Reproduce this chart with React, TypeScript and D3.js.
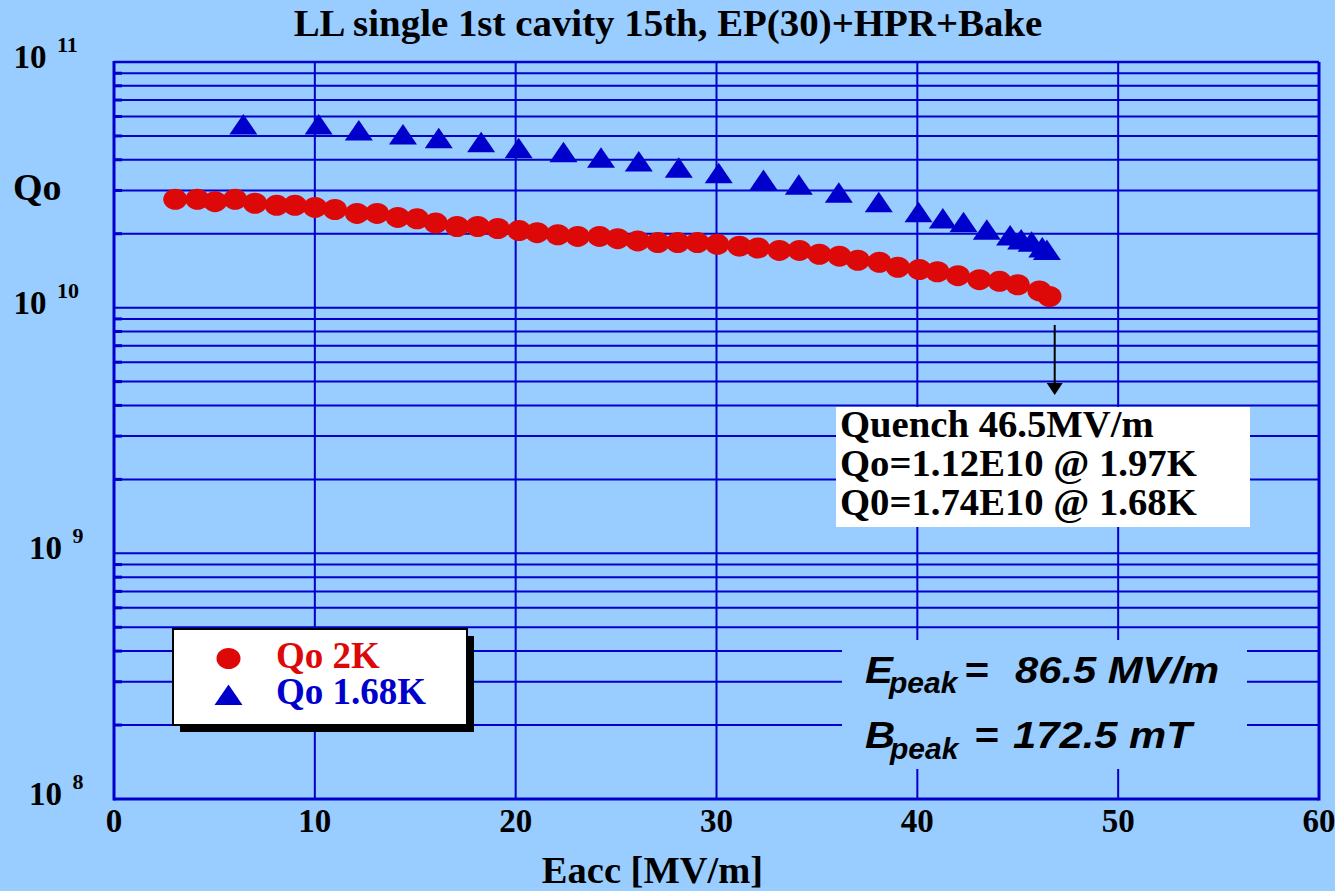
import React from "react";
import * as d3 from "d3";

const eacc2K = [3.05, 4.15, 5.03, 6.03, 7.02, 8.1, 9.01, 10.01, 11.0, 12.1, 13.1, 14.13, 15.09, 16.02, 17.08, 18.11, 19.11, 20.17, 21.07, 22.1, 23.09, 24.17, 25.08, 26.08, 27.08, 28.07, 29.05, 30.04, 31.14, 32.06, 33.13, 34.13, 35.12, 36.12, 37.04, 38.11, 39.03, 40.1, 41.0, 42.02, 43.09, 44.09, 45.0, 46.08, 46.58];
const q2K = [2.76e10, 2.76e10, 2.7e10, 2.76e10, 2.66e10, 2.61e10, 2.61e10, 2.56e10, 2.51e10, 2.42e10, 2.42e10, 2.33e10, 2.3e10, 2.21e10, 2.14e10, 2.14e10, 2.1e10, 2.06e10, 2.02e10, 1.98e10, 1.95e10, 1.95e10, 1.91e10, 1.87e10, 1.84e10, 1.84e10, 1.84e10, 1.81e10, 1.78e10, 1.75e10, 1.71e10, 1.71e10, 1.65e10, 1.62e10, 1.56e10, 1.53e10, 1.46e10, 1.43e10, 1.4e10, 1.35e10, 1.3e10, 1.28e10, 1.24e10, 1.17e10, 1.11e10];

const eacc168K = [6.44, 10.19, 12.19, 14.39, 16.17, 18.28, 20.15, 22.38, 24.25, 26.13, 28.12, 30.11, 32.34, 34.1, 36.09, 38.08, 40.06, 41.27, 42.3, 43.46, 44.62, 45.17, 45.69, 46.22, 46.45];
const q168K = [5.58e10, 5.58e10, 5.27e10, 5.08e10, 4.9e10, 4.72e10, 4.47e10, 4.3e10, 4.09e10, 3.94e10, 3.72e10, 3.53e10, 3.32e10, 3.17e10, 2.94e10, 2.69e10, 2.45e10, 2.31e10, 2.23e10, 2.08e10, 1.97e10, 1.9e10, 1.86e10, 1.76e10, 1.72e10];

const xTicks = [0, 10, 20, 30, 40, 50, 60];
const yDecades = [8, 9, 10, 11];
const legendLabels = ["Qo 2K", "Qo 1.68K"];
const quenchLines = ["Quench 46.5MV/m", "Qo=1.12E10 @ 1.97K", "Q0=1.74E10 @ 1.68K"];

const BG = "#99ccff";
const GRID = "#0000cc";
const RED = "#dd0808";
const BLUE = "#0000cc";
const SERIF = "'Liberation Serif', 'Times New Roman', serif";
const SANS = "'Liberation Sans', Arial, sans-serif";

export default function App() {
  const W = 1335, H = 891;
  const x = d3.scaleLinear().domain([0, 60]).range([114, 1319]);
  const y = d3.scaleLog().domain([1e8, 1e11]).range([799, 62]);

  const minor: number[] = [];
  for (let d = 8; d < 11; d++) for (let m = 2; m <= 9; m++) minor.push(m * Math.pow(10, d));

  const tri = (cx: number, cy: number) =>
    `M${cx},${cy - 10.25}L${cx + 14},${cy + 10.25}L${cx - 14},${cy + 10.25}Z`;

  const stretched = (tx: number, ty: number, s: string, fs = 36) => (
    <g transform={`translate(${tx},${ty}) scale(1.16,1)`}>
      <text x={0} y={0} fontSize={fs}>{s}</text>
    </g>
  );

  return (
    <svg width={W} height={H} style={{ position: "absolute", left: 0, top: 0 }} xmlns="http://www.w3.org/2000/svg">
      <rect x={0} y={0} width={W} height={H} fill={BG} />
      {minor.map((v, i) => (
        <line key={"m" + i} x1={x(0)} x2={x(60)} y1={y(v)} y2={y(v)} stroke={GRID} strokeWidth={2} />
      ))}
      {yDecades.map((d) => (
        <line key={"d" + d} x1={x(0)} x2={x(60)} y1={y(Math.pow(10, d))} y2={y(Math.pow(10, d))} stroke={GRID} strokeWidth={2} />
      ))}
      {xTicks.map((t) => (
        <line key={"v" + t} x1={x(t)} x2={x(t)} y1={y(1e11)} y2={y(1e8)} stroke={GRID} strokeWidth={2} />
      ))}
      {minor.map((v, i) => (
        <line key={"t" + i} x1={x(0)} x2={x(0) + 8} y1={y(v)} y2={y(v)} stroke={GRID} strokeWidth={3} />
      ))}
      <line x1={x(0)} x2={x(0)} y1={y(1e11) - 1} y2={y(1e8) + 1.5} stroke={GRID} strokeWidth={3} />
      <line x1={x(0)} x2={x(60)} y1={y(1e8)} y2={y(1e8)} stroke={GRID} strokeWidth={3} />
      <line x1={x(0)} x2={x(60)} y1={y(1e11)} y2={y(1e11)} stroke={GRID} strokeWidth={2.5} />
      <line x1={x(60)} x2={x(60)} y1={y(1e11)} y2={y(1e8) + 1.5} stroke={GRID} strokeWidth={3} />

      <rect x={842} y={640} width={405} height={129} fill={BG} />
      <g fontFamily={SANS} fontWeight="bold" fontStyle="italic" fill="#000">
        {stretched(865, 682.7, "E")}
        <text x={889} y={693} fontSize={30}>peak</text>
        {stretched(964, 682.7, "=")}
        {stretched(1015, 682.7, "86.5 MV/m")}
        {stretched(865, 748.3, "B")}
        <text x={890} y={759} fontSize={30}>peak</text>
        {stretched(974, 748.3, "=")}
        {stretched(1013, 748.3, "172.5 mT")}
      </g>

      <rect x={836} y={407} width={414} height={120} fill="#ffffff" />
      <g fontFamily={SERIF} fontWeight="bold" fontSize={38.7} fill="#000">
        {quenchLines.map((s, i) => (
          <text key={s} x={840} y={436.5 + i * 39.3}>{s}</text>
        ))}
      </g>
      <line x1={x(46.84)} x2={x(46.84)} y1={325} y2={384} stroke="#000" strokeWidth={2} />
      <path d={`M${x(46.84) - 8},383L${x(46.84) + 8},383L${x(46.84)},395Z`} fill="#000" />

      {eacc2K.map((e, i) => (
        <ellipse key={"r" + i} cx={x(e)} cy={y(q2K[i])} rx={12} ry={10.5} fill={RED} />
      ))}
      {eacc168K.map((e, i) => (
        <path key={"b" + i} d={tri(x(e), y(q168K[i]))} fill={BLUE} />
      ))}

      <rect x={180} y={636} width={294} height={96} fill="#000" />
      <rect x={173} y={629} width={294} height={96} fill="#fff" stroke="#000" strokeWidth={2} />
      <ellipse cx={228.5} cy={658.5} rx={12} ry={10.5} fill={RED} />
      <path d={tri(228.5, 694.7)} fill={BLUE} />
      <text x={276} y={668.3} fontFamily={SERIF} fontWeight="bold" fontSize={37} fill={RED}>{legendLabels[0]}</text>
      <text x={276} y={704.3} fontFamily={SERIF} fontWeight="bold" fontSize={37} fill={BLUE}>{legendLabels[1]}</text>

      <text x={668} y={36} textAnchor="middle" fontFamily={SERIF} fontWeight="bold" fontSize={38.9} fill="#000">
        LL single 1st cavity 15th, EP(30)+HPR+Bake
      </text>

      {xTicks.map((t) => (
        <text key={"xl" + t} x={x(t)} y={832} textAnchor="middle" fontFamily={SERIF} fontWeight="bold" fontSize={33} fill="#000">
          {t}
        </text>
      ))}
      <text x={652.5} y={883} textAnchor="middle" fontFamily={SERIF} fontWeight="bold" fontSize={38.5} fill="#000">
        Eacc [MV/m]
      </text>

      {yDecades.map((d) => {
        const yy = y(Math.pow(10, d));
        const sup = String(d);
        const tenEnd = sup.length === 2 ? 46.5 : 62;
        return (
          <g key={"yl" + d} fontFamily={SERIF} fontWeight="bold" fill="#000">
            <text x={tenEnd} y={yy + 6} textAnchor="end" fontSize={33}>10</text>
            <text x={tenEnd + 10.5} y={yy - 10} fontSize={22}>{sup}</text>
          </g>
        );
      })}
      <text x={13} y={200} fontFamily={SERIF} fontWeight="bold" fontSize={38} fill="#000">Qo</text>
    </svg>
  );
}
